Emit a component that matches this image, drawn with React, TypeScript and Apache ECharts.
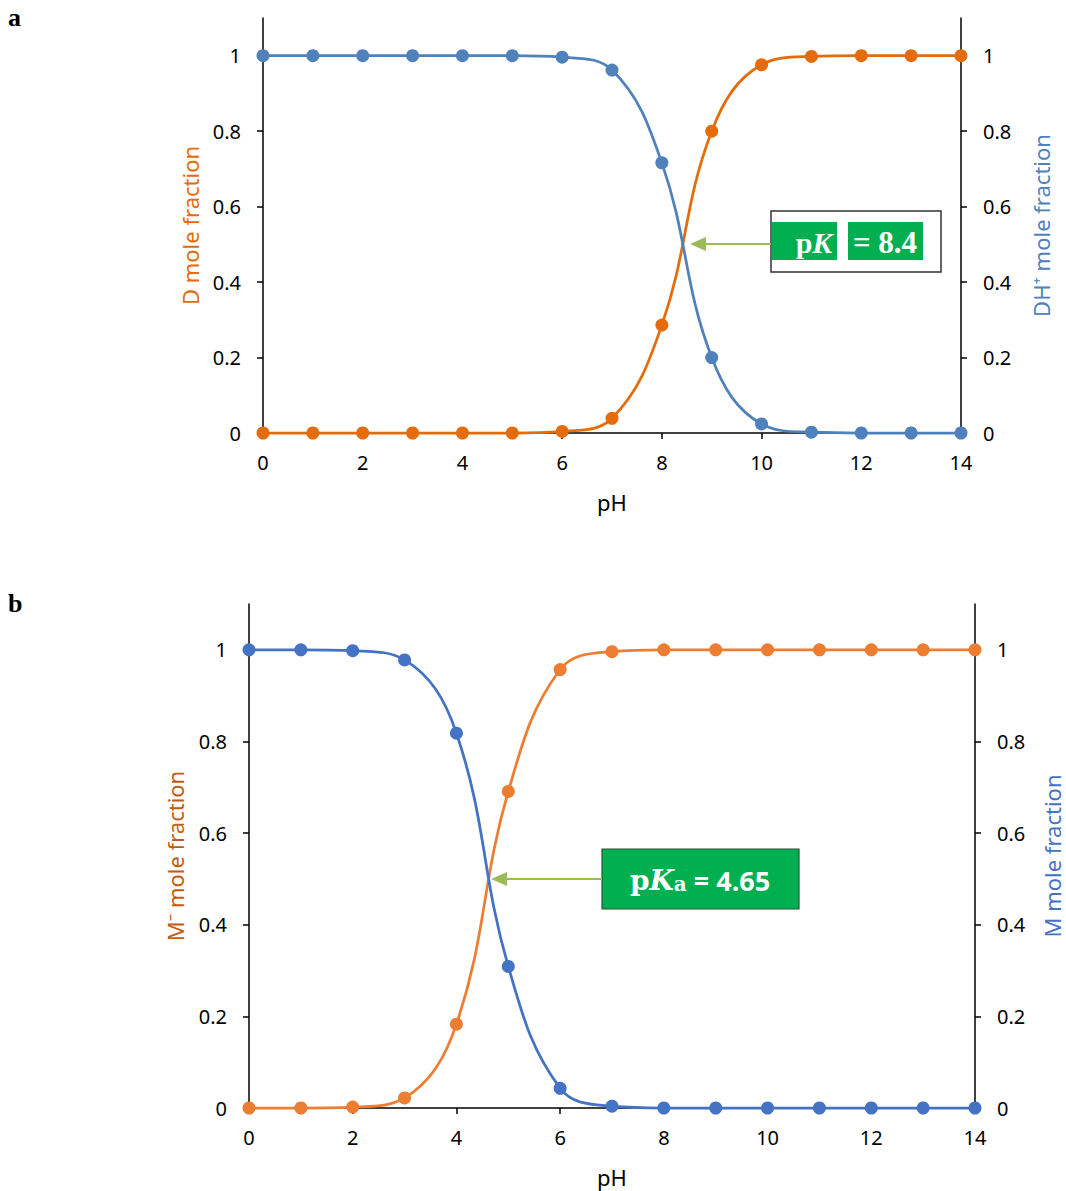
import React, { useEffect, useRef } from "react";
import * as echarts from "echarts";

const pH = [0, 1, 2, 3, 4, 5, 6, 7, 8, 9, 10, 11, 12, 13, 14];
const xTicks = [0, 2, 4, 6, 8, 10, 12, 14];
const yTicks = [0, 0.2, 0.4, 0.6, 0.8, 1];

// Panel a
const dFraction = [0, 0, 0, 0, 0, 0, 0.004, 0.039, 0.286, 0.8, 0.976, 0.998, 1, 1, 1];
const dhFraction = [1, 1, 1, 1, 1, 1, 0.996, 0.962, 0.716, 0.2, 0.024, 0.002, 0, 0, 0];
// Panel b
const mMinusFraction = [0, 0, 0.002, 0.022, 0.183, 0.691, 0.957, 0.996, 1, 1, 1, 1, 1, 1, 1];
const mFraction = [1, 1, 0.998, 0.978, 0.818, 0.309, 0.043, 0.004, 0, 0, 0, 0, 0, 0, 0];

const FONT = "Noto Sans";

const pairs = (ys: number[]) => pH.map((x, i) => [x, ys[i]]);

function yAxis(gridIndex: number, position: "left" | "right", name: string, color: string, gap: number) {
  return {
    type: "value",
    gridIndex,
    position,
    min: 0,
    max: 1.1,
    name,
    nameLocation: "middle",
    nameGap: gap,
    nameRotate: 90,
    nameTextStyle: { color, fontSize: 22, fontFamily: FONT },
    axisLine: { show: true, lineStyle: { color: "#000", width: 1.5 } },
    axisTick: { show: true, customValues: yTicks, length: 6, lineStyle: { color: "#000", width: 1.5 } },
    axisLabel: {
      customValues: yTicks,
      margin: 22,
      color: "#000",
      fontSize: 20,
      fontFamily: FONT,
      formatter: (v: number) => String(Math.round(v * 10) / 10),
    },
    splitLine: { show: false },
  };
}

function xAxis(gridIndex: number) {
  return {
    type: "value",
    gridIndex,
    min: 0,
    max: 14,
    interval: 2,
    name: "pH",
    nameLocation: "middle",
    nameGap: 58,
    nameTextStyle: { color: "#000", fontSize: 22, fontFamily: FONT },
    axisLine: { show: true, onZero: false, lineStyle: { color: "#000", width: 1.5 } },
    axisTick: { show: true, customValues: xTicks, length: 6, lineStyle: { color: "#000", width: 1.5 } },
    axisLabel: { customValues: xTicks, margin: 19, color: "#000", fontSize: 20, fontFamily: FONT },
    splitLine: { show: false },
  };
}

function series(name: string, data: number[], color: string, xi: number, yi: number) {
  return {
    type: "line",
    name,
    xAxisIndex: xi,
    yAxisIndex: yi,
    data: pairs(data),
    smooth: 0.4,
    symbol: "circle",
    symbolSize: 13,
    clip: false,
    lineStyle: { color, width: 2.75 },
    itemStyle: { color },
  };
}

const GREEN = "#00B050";
const ARROW = "#9BBB59";

export default function App() {
  const ref = useRef<HTMLDivElement>(null);
  useEffect(() => {
    if (!ref.current) return;
    const chart = echarts.init(ref.current, undefined, { renderer: "svg" });
    chart.setOption({
      animation: false,
      backgroundColor: "#fff",
      grid: [
        { left: 263, right: 105, top: 18, bottom: 758, outerBoundsMode: "none", containLabel: false },
        { left: 249, right: 91, top: 604, bottom: 83, outerBoundsMode: "none", containLabel: false },
      ],
      xAxis: [xAxis(0), xAxis(1)],
      yAxis: [
        yAxis(0, "left", "D mole fraction", "#E46C0A", 62),
        yAxis(0, "right", "DH\u207A mole fraction", "#4F81BD", 69),
        yAxis(1, "left", "M\u207B mole fraction", "#C55A11", 63),
        yAxis(1, "right", "M mole fraction", "#4472C4", 66),
      ],
      series: [
        series("D", dFraction, "#E46C0A", 0, 0),
        series("DH+", dhFraction, "#4F81BD", 0, 1),
        series("M-", mMinusFraction, "#ED7D31", 1, 2),
        series("M", mFraction, "#4472C4", 1, 3),
      ],
      graphic: [
        { type: "text", left: 8, top: 4, style: { text: "a", font: "bold 26px 'Liberation Serif'", fill: "#000" } },
        { type: "text", left: 8, top: 590, style: { text: "b", font: "bold 26px 'Liberation Serif'", fill: "#000" } },
        // annotation a
        { type: "rect", shape: { x: 771, y: 211, width: 170, height: 61 }, style: { fill: "#fff", stroke: "#333", lineWidth: 1.5 } },
        { type: "rect", shape: { x: 772, y: 222, width: 65, height: 38 }, style: { fill: GREEN } },
        { type: "rect", shape: { x: 848, y: 222, width: 75, height: 38 }, style: { fill: GREEN } },
        {
          type: "text", x: 814, y: 242,
          style: {
            text: "{p|p}{k|K}", align: "center", verticalAlign: "middle",
            rich: {
              p: { font: "bold 30px 'Liberation Serif'", fill: "#fff" },
              k: { font: "italic bold 30px 'Liberation Serif'", fill: "#fff" },
            },
          },
        },
        { type: "text", x: 885, y: 242, style: { text: "= 8.4", align: "center", verticalAlign: "middle", font: "bold 31px 'Liberation Serif'", fill: "#fff" } },
        { type: "line", shape: { x1: 771, y1: 244, x2: 704, y2: 244 }, style: { stroke: ARROW, lineWidth: 2 } },
        { type: "polygon", shape: { points: [[690, 244], [706, 237], [706, 251]] }, style: { fill: ARROW } },
        // annotation b
        { type: "rect", shape: { x: 602, y: 849, width: 197, height: 60 }, style: { fill: GREEN, stroke: "#2F5233", lineWidth: 1.2 } },
        {
          type: "text", x: 700, y: 880,
          style: {
            text: "{p|p}{k|K}{a|a}{r| = 4.65}", align: "center", verticalAlign: "middle",
            rich: {
              p: { font: "bold 28px 'DejaVu Serif'", fill: "#fff" },
              k: { font: "italic bold 28px 'DejaVu Serif'", fill: "#fff" },
              a: { font: "bold 20px 'DejaVu Serif'", fill: "#fff", padding: [8, 0, 0, 0] },
              r: { font: "bold 27px 'Noto Sans'", fill: "#fff" },
            },
          },
        },
        { type: "line", shape: { x1: 602, y1: 879, x2: 505, y2: 879 }, style: { stroke: ARROW, lineWidth: 2 } },
        { type: "polygon", shape: { points: [[491, 879], [507, 872], [507, 886]] }, style: { fill: ARROW } },
      ],
    });
    return () => chart.dispose();
  }, []);
  return <div ref={ref} style={{ position: "absolute", left: 0, top: 0, width: 1066, height: 1191 }} />;
}
